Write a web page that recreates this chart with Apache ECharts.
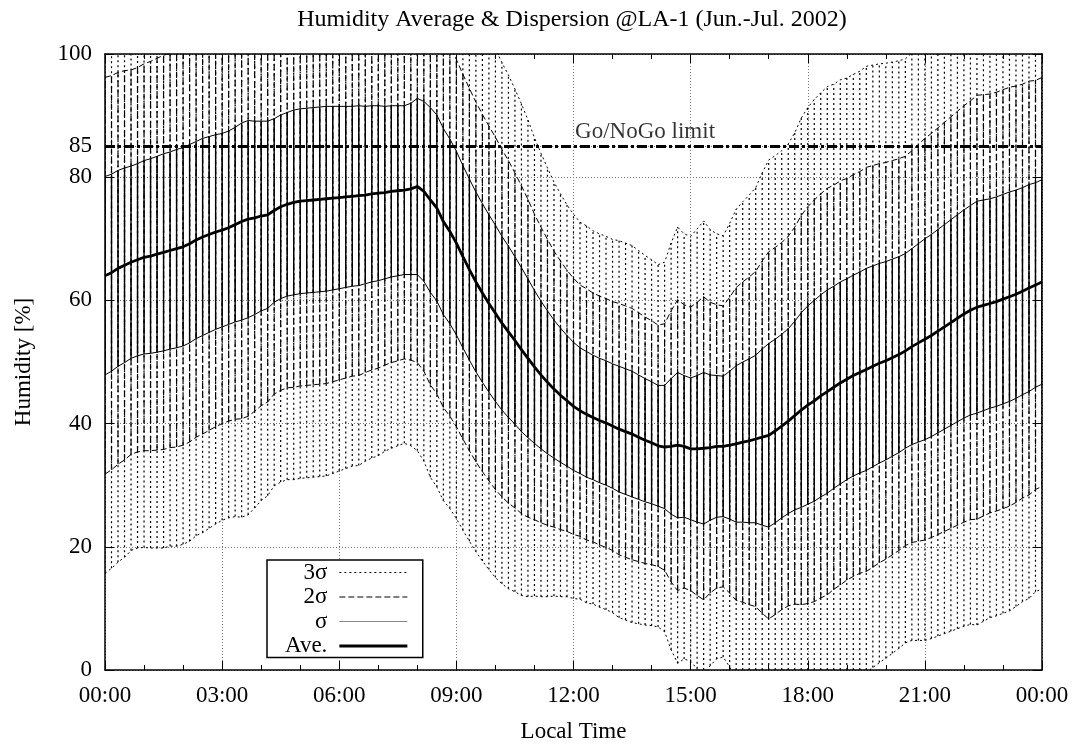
<!DOCTYPE html>
<html>
<head>
<meta charset="utf-8">
<title>Humidity Average &amp; Dispersion</title>
<script src="https://cdn.jsdelivr.net/npm/echarts@6/dist/echarts.min.js"></script>
<style>
  html, body { margin: 0; padding: 0; background: #fff; }
  #chart { width: 1077px; height: 748px; }
</style>
</head>
<body>
<div id="chart"></div>
<script>
// Mean relative humidity at LA-1 (Jun.-Jul. 2002), one value every 10 minutes of local time,
// rows are hours 00..23, last entry is 24:00.
const AVG = [
  64.0, 64.5, 65.2, 65.7, 66.2, 66.6,
  67.0, 67.2, 67.5, 67.8, 68.1, 68.4,
  68.7, 69.2, 69.8, 70.3, 70.7, 71.1,
  71.4, 71.8, 72.3, 72.8, 73.2, 73.4,
  73.7, 73.9, 74.6, 75.2, 75.6, 75.9,
  76.1, 76.2, 76.3, 76.4, 76.5, 76.6,
  76.7, 76.8, 76.9, 77.0, 77.1, 77.3,
  77.4, 77.5, 77.7, 77.8, 77.9, 78.1,
  78.5, 77.7, 76.3, 75.0, 72.8, 71.2,
  69.3, 67.1, 65.0, 63.0, 61.2, 59.5,
  57.9, 56.3, 54.9, 53.5, 52.0, 50.6,
  49.2, 47.9, 46.7, 45.6, 44.6, 43.7,
  42.8, 42.1, 41.5, 41.0, 40.5, 40.1,
  39.6, 39.1, 38.7, 38.3, 37.8, 37.3,
  36.9, 36.4, 36.2, 36.3, 36.5, 36.3,
  35.9, 35.9, 36.0, 36.1, 36.3, 36.3,
  36.5, 36.7, 37.0, 37.2, 37.5, 37.8,
  38.1, 38.8, 39.6, 40.4, 41.3, 42.2,
  43.0, 43.7, 44.5, 45.2, 45.9, 46.6,
  47.2, 47.8, 48.3, 48.8, 49.3, 49.8,
  50.2, 50.7, 51.2, 51.8, 52.5, 53.1,
  53.7, 54.3, 55.0, 55.7, 56.4, 57.1,
  57.8, 58.4, 58.9, 59.2, 59.5, 59.8,
  60.2, 60.6, 61.0, 61.5, 62.0, 62.5,
  63.0
];

// Standard deviation of the humidity at the same 10-minute steps.
const SIGMA = [
  16.1, 16.0, 15.9, 15.8, 15.6, 15.6,
  15.7, 15.8, 15.9, 16.0, 16.0, 16.1,
  16.1, 16.1, 16.0, 16.0, 15.9, 15.8,
  15.7, 15.7, 15.8, 16.0, 16.0, 15.7,
  15.4, 15.2, 14.9, 14.9, 14.9, 15.0,
  15.0, 15.0, 15.0, 15.0, 15.0, 14.9,
  14.8, 14.7, 14.6, 14.6, 14.4, 14.3,
  14.2, 14.0, 13.9, 13.8, 13.7, 13.9,
  14.3, 14.6, 15.0, 15.1, 15.1, 15.0,
  14.9, 14.8, 14.7, 14.6, 14.5, 14.4,
  14.3, 14.1, 13.9, 13.6, 13.3, 12.9,
  12.4, 12.0, 11.6, 11.2, 10.9, 10.6,
  10.4, 10.2, 10.2, 10.1, 10.1, 10.1,
  10.1, 10.2, 10.2, 10.2, 10.1, 10.0,
  9.9, 9.8, 10.0, 11.0, 11.8, 11.5,
  11.5, 11.9, 12.3, 11.8, 11.5, 11.4,
  12.0, 12.7, 13.0, 13.3, 13.6, 14.3,
  14.9, 14.9, 14.9, 15.0, 15.3, 15.8,
  16.1, 16.3, 16.4, 16.5, 16.4, 16.4,
  16.3, 16.3, 16.3, 16.4, 16.3, 16.2,
  16.1, 16.0, 15.9, 15.8, 15.9, 16.1,
  16.3, 16.4, 16.5, 16.6, 16.7, 16.8,
  16.9, 17.0, 17.2, 17.1, 17.0, 17.0,
  17.0, 17.0, 16.9, 16.8, 16.8, 16.6,
  16.6
];

const STEP_MINUTES = 10;
const Y_TICKS = [0, 20, 40, 60, 80, 85, 100];
const X_TICK_STEP = 180;        // labelled ticks every 3 hours
const GO_LIMIT = 85;            // Go/NoGo humidity threshold [%]
const GO_LABEL_AT = 830;        // minute of day where the threshold caption sits
const Y_MIN = 0, Y_MAX = 100, X_MIN = 0, X_MAX = 1440;

const TIMES = AVG.map((_, i) => i * STEP_MINUTES);

const FONT = 'Liberation Serif, Times New Roman, serif';
const DOTTED = [2, 3];
const DASHED = [6, 3];

function band(k) {
  return TIMES.map((t, i) => [t, +(AVG[i] + k * SIGMA[i]).toFixed(2)]);
}

function hhmm(v) {
  const h = Math.floor(v / 60) % 24;
  const m = Math.round(v % 60);
  return String(h).padStart(2, '0') + ':' + String(m).padStart(2, '0');
}

// Vertical dispersion bars: dotted to +-3 sigma, dashed to +-2 sigma, solid to +-1 sigma.
function renderBars(params, api) {
  const t = api.value(0), m = api.value(1), s = api.value(2);
  const parts = [[3, DOTTED, 1.2], [2, DASHED, 1.2], [1, null, 1.4]];
  const children = parts.map(([k, dash, w]) => {
    const lo = Math.max(Y_MIN, m - k * s);
    const hi = Math.min(Y_MAX, m + k * s);
    const p0 = api.coord([t, lo]);
    const p1 = api.coord([t, hi]);
    return {
      type: 'line',
      shape: { x1: p0[0], y1: p0[1], x2: p1[0], y2: p1[1] },
      style: { stroke: '#000', lineWidth: w, lineDash: dash }
    };
  });
  return { type: 'group', children };
}

function curve(name, k, type, width, z) {
  return {
    name, type: 'line', data: band(k), symbol: 'none', silent: true,
    clip: true, z,
    lineStyle: { color: '#000', width, type },
    emphasis: { disabled: true }
  };
}

const axisCommon = {
  type: 'value', min: X_MIN, max: X_MAX, interval: X_TICK_STEP,
  axisLine: { show: true, onZero: false, lineStyle: { color: '#000', width: 1.5 } },
  axisTick: { show: true, inside: true, length: 9, lineStyle: { color: '#000', width: 1 } },
  minorTick: { show: true, splitNumber: 3, length: 5, lineStyle: { color: '#000', width: 1 } }
};

const chart = echarts.init(document.getElementById('chart'), null, { renderer: 'canvas' });

chart.setOption({
  backgroundColor: '#fff',
  animation: false,
  title: {
    text: 'Humidity Average & Dispersion @LA-1 (Jun.-Jul. 2002)',
    left: 567, top: 3, textAlign: 'center',
    textStyle: { fontFamily: FONT, fontSize: 24, fontWeight: 'normal', color: '#000' }
  },
  grid: { left: 105, right: 35, top: 54, bottom: 76, containLabel: false },
  xAxis: [
    Object.assign({}, axisCommon, {
      position: 'bottom',
      name: 'Local Time', nameLocation: 'middle', nameGap: 50,
      nameTextStyle: { fontFamily: FONT, fontSize: 23, color: '#000' },
      axisLabel: { formatter: hhmm, fontFamily: FONT, fontSize: 23, color: '#000', margin: 14 },
      splitLine: { show: true, lineStyle: { color: '#777', width: 1, type: [1, 2] } }
    }),
    Object.assign({}, axisCommon, {
      position: 'top',
      axisLabel: { show: false },
      splitLine: { show: false }
    })
  ],
  yAxis: [
    {
      type: 'value', min: Y_MIN, max: Y_MAX, interval: 20, position: 'left',
      name: 'Humidity [%]', nameLocation: 'middle', nameGap: 70,
      nameTextStyle: { fontFamily: FONT, fontSize: 23, color: '#000' },
      axisLine: { show: true, onZero: false, lineStyle: { color: '#000', width: 1.5 } },
      axisTick: { show: true, inside: true, length: 9, customValues: Y_TICKS, lineStyle: { color: '#000' } },
      axisLabel: { customValues: Y_TICKS, fontFamily: FONT, fontSize: 23, color: '#000', margin: 13 },
      splitLine: { show: true, lineStyle: { color: '#777', width: 1, type: [1, 2] } }
    },
    {
      type: 'value', min: Y_MIN, max: Y_MAX, interval: 20, position: 'right',
      axisLine: { show: true, onZero: false, lineStyle: { color: '#000', width: 1.5 } },
      axisTick: { show: true, inside: true, length: 9, lineStyle: { color: '#000' } },
      axisLabel: { show: false },
      splitLine: { show: false }
    }
  ],
  legend: {
    orient: 'vertical', left: 267, top: 560, align: 'right',
    selectedMode: false,
    itemWidth: 68, itemHeight: 12, itemGap: 1.5,
    padding: [1, 14, 0, 18],
    backgroundColor: '#fff', borderColor: '#000', borderWidth: 1.5,
    itemStyle: { opacity: 0 },
    textStyle: { fontFamily: FONT, fontSize: 23, color: '#000', padding: [0, 7, 0, 0] },
    data: [
      { name: '3σ', lineStyle: { color: '#000', width: 1, type: DOTTED } },
      { name: '2σ', lineStyle: { color: '#000', width: 1, type: DASHED } },
      { name: 'σ', lineStyle: { color: '#888', width: 1, type: 'solid' } },
      { name: 'Ave.', lineStyle: { color: '#000', width: 2.8, type: 'solid' } }
    ],
    z: 20
  },
  series: [
    {
      name: 'bars', type: 'custom', renderItem: renderBars, silent: true, clip: true, z: 1,
      encode: { x: 0, y: 1 },
      data: TIMES.map((t, i) => [t, AVG[i], SIGMA[i]])
    },
    curve('3σ', 3, DOTTED, 1, 3),
    curve('3σ', -3, DOTTED, 1, 3),
    curve('2σ', 2, DASHED, 1, 3),
    curve('2σ', -2, DASHED, 1, 3),
    curve('σ', 1, 'solid', 1, 3),
    curve('σ', -1, 'solid', 1, 3),
    curve('Ave.', 0, 'solid', 2.8, 4),
    {
      name: 'Go/NoGo', type: 'line', symbol: 'none', silent: true, z: 5,
      data: [[X_MIN, GO_LIMIT], [X_MAX, GO_LIMIT]],
      lineStyle: { color: '#000', width: 3, type: [10, 3, 3, 3] }
    },
    {
      name: 'Go/NoGo label', type: 'scatter', symbolSize: 0, silent: true, z: 6,
      data: [[GO_LABEL_AT, GO_LIMIT]],
      label: {
        show: true, position: 'top', distance: 3,
        formatter: 'Go/NoGo limit',
        fontFamily: FONT, fontSize: 23, color: '#000'
      }
    }
  ]
});
</script>
</body>
</html>
